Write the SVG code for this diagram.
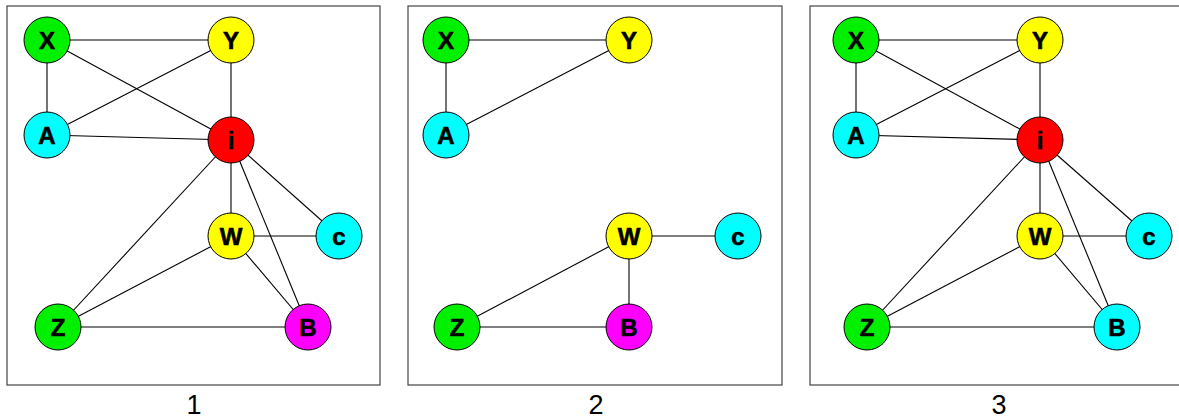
<svg xmlns="http://www.w3.org/2000/svg" width="1179" height="418" viewBox="0 0 1179 418">
<style>
.frame{fill:#fff;stroke:#444;stroke-width:1.2}
.e line{stroke:#000;stroke-width:1.1}
.n circle{stroke:#000;stroke-width:1}
.n text{font-family:"Liberation Sans",Arial,sans-serif;font-weight:bold;font-size:24px;text-anchor:middle;dominant-baseline:central;fill:#000;stroke:#000;stroke-width:0.6}
.cap{font-family:"Liberation Sans",Arial,sans-serif;font-size:27px;text-anchor:middle;fill:#000}
.g{fill:#00f000}.y{fill:#ffff00}.c{fill:#00ffff}.r{fill:#ff0000}.m{fill:#ff00ff}
</style>
<rect x="0" y="0" width="1179" height="418" fill="#fff"/>
<rect class="frame" x="7" y="6" width="373" height="379"/>
<rect class="frame" x="408" y="6" width="374" height="379"/>
<rect class="frame" x="810" y="6" width="380" height="379"/>
<g id="connectors" class="e">
<line x1="47" y1="40" x2="231" y2="40"/>
<line x1="47" y1="40" x2="47" y2="135"/>
<line x1="47" y1="40" x2="231" y2="140"/>
<line x1="47" y1="135" x2="231" y2="40"/>
<line x1="47" y1="135" x2="231" y2="140"/>
<line x1="231" y1="40" x2="231" y2="140"/>
<line x1="231" y1="140" x2="231" y2="236"/>
<line x1="231" y1="140" x2="339" y2="236"/>
<line x1="231" y1="140" x2="58" y2="327"/>
<line x1="231" y1="140" x2="308" y2="327"/>
<line x1="231" y1="236" x2="339" y2="236"/>
<line x1="231" y1="236" x2="58" y2="327"/>
<line x1="231" y1="236" x2="308" y2="327"/>
<line x1="58" y1="327" x2="308" y2="327"/>

<line x1="446" y1="40" x2="629" y2="40"/>
<line x1="446" y1="40" x2="446" y2="135"/>
<line x1="446" y1="135" x2="629" y2="40"/>
<line x1="629" y1="236" x2="738" y2="236"/>
<line x1="629" y1="236" x2="457" y2="327"/>
<line x1="629" y1="236" x2="629" y2="327"/>
<line x1="457" y1="327" x2="629" y2="327"/>

<line x1="856" y1="40" x2="1040" y2="40"/>
<line x1="856" y1="40" x2="856" y2="135"/>
<line x1="856" y1="40" x2="1040" y2="140"/>
<line x1="856" y1="135" x2="1040" y2="40"/>
<line x1="856" y1="135" x2="1040" y2="140"/>
<line x1="1040" y1="40" x2="1040" y2="140"/>
<line x1="1040" y1="140" x2="1040" y2="236"/>
<line x1="1040" y1="140" x2="1149" y2="236"/>
<line x1="1040" y1="140" x2="867" y2="327"/>
<line x1="1040" y1="140" x2="1117" y2="327"/>
<line x1="1040" y1="236" x2="1149" y2="236"/>
<line x1="1040" y1="236" x2="867" y2="327"/>
<line x1="1040" y1="236" x2="1117" y2="327"/>
<line x1="867" y1="327" x2="1117" y2="327"/>
</g>
<g id="p1-X" class="n"><circle class="g" cx="47" cy="40" r="23"/><text x="47" y="40">X</text></g>
<g id="p1-Y" class="n"><circle class="y" cx="231" cy="40" r="23"/><text x="231" y="40">Y</text></g>
<g id="p1-A" class="n"><circle class="c" cx="47" cy="135" r="23"/><text x="47" y="135">A</text></g>
<g id="p1-i" class="n"><circle class="r" cx="231" cy="140" r="23"/><text x="231" y="140">i</text></g>
<g id="p1-W" class="n"><circle class="y" cx="231" cy="236" r="23"/><text x="231" y="236">W</text></g>
<g id="p1-c" class="n"><circle class="c" cx="339" cy="236" r="23"/><text x="339" y="236">c</text></g>
<g id="p1-Z" class="n"><circle class="g" cx="58" cy="327" r="23"/><text x="58" y="327">Z</text></g>
<g id="p1-B" class="n"><circle class="m" cx="308" cy="327" r="23"/><text x="308" y="327">B</text></g>

<g id="p2-X" class="n"><circle class="g" cx="446" cy="40" r="23"/><text x="446" y="40">X</text></g>
<g id="p2-Y" class="n"><circle class="y" cx="629" cy="40" r="23"/><text x="629" y="40">Y</text></g>
<g id="p2-A" class="n"><circle class="c" cx="446" cy="135" r="23"/><text x="446" y="135">A</text></g>
<g id="p2-W" class="n"><circle class="y" cx="629" cy="236" r="23"/><text x="629" y="236">W</text></g>
<g id="p2-c" class="n"><circle class="c" cx="738" cy="236" r="23"/><text x="738" y="236">c</text></g>
<g id="p2-Z" class="n"><circle class="g" cx="457" cy="327" r="23"/><text x="457" y="327">Z</text></g>
<g id="p2-B" class="n"><circle class="m" cx="629" cy="327" r="23"/><text x="629" y="327">B</text></g>

<g id="p3-X" class="n"><circle class="g" cx="856" cy="40" r="23"/><text x="856" y="40">X</text></g>
<g id="p3-Y" class="n"><circle class="y" cx="1040" cy="40" r="23"/><text x="1040" y="40">Y</text></g>
<g id="p3-A" class="n"><circle class="c" cx="856" cy="135" r="23"/><text x="856" y="135">A</text></g>
<g id="p3-i" class="n"><circle class="r" cx="1040" cy="140" r="23"/><text x="1040" y="140">i</text></g>
<g id="p3-W" class="n"><circle class="y" cx="1040" cy="236" r="23"/><text x="1040" y="236">W</text></g>
<g id="p3-c" class="n"><circle class="c" cx="1149" cy="236" r="23"/><text x="1149" y="236">c</text></g>
<g id="p3-Z" class="n"><circle class="g" cx="867" cy="327" r="23"/><text x="867" y="327">Z</text></g>
<g id="p3-B" class="n"><circle class="c" cx="1117" cy="327" r="23"/><text x="1117" y="327">B</text></g>

<text class="cap" x="194" y="414">1</text>
<text class="cap" x="596" y="414">2</text>
<text class="cap" x="999" y="414">3</text>
</svg>
